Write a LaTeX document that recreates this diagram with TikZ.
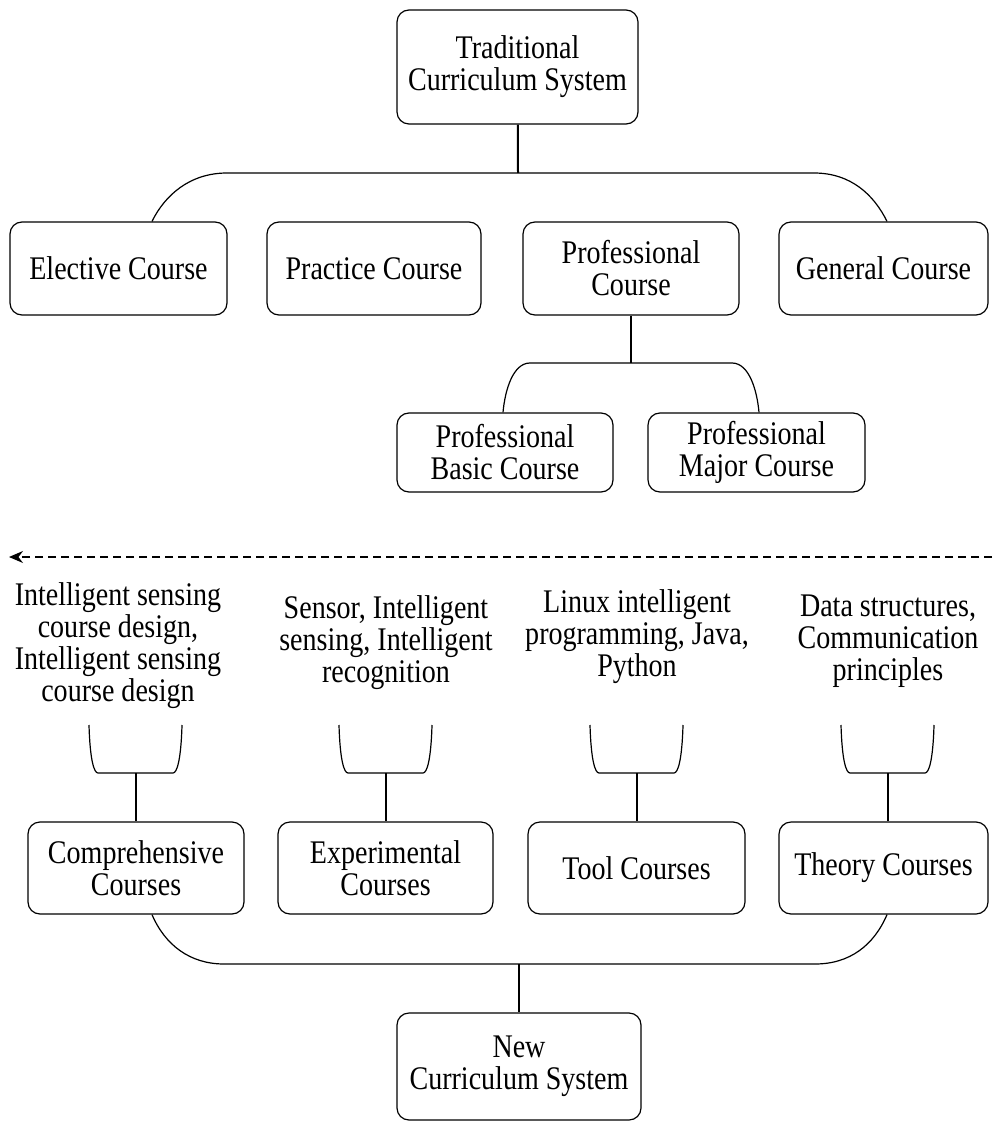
\documentclass[tikz,border=0pt]{standalone}
\usepackage{fontspec}
\setmainfont{Liberation Serif}[FakeStretch=0.85]
\usetikzlibrary{arrows.meta}
\begin{document}
\begin{tikzpicture}
        [x=0.5pt, y=-0.5pt,
         font=\fontsize{16.5}{16}\selectfont,
         box_style/.style={draw=black, line width=0.6pt, rounded corners=6pt, align=center, inner sep=0pt},
         text_style/.style={align=center, inner sep=0pt},
         edge_style/.style={draw=black, line width=0.6pt},
         stem_style/.style={draw=black, line width=1pt},
         bracket/.pic={\draw[edge_style] (-47,-48) .. controls (-46,-13) and (-42,0) .. (-38,0) -- (37,0) .. controls (41,0) and (45,-13) .. (46,-48);}]
            \useasboundingbox (0,0) rectangle (992,1122);
            % old system
            \node[box_style, minimum width=120.5pt, minimum height=57pt] (trad) at (517.5,67) {Traditional\\Curriculum System};
            \node[box_style, minimum width=108.5pt, minimum height=46.5pt] (elective) at (118.5,268.5) {Elective Course};
            \node[box_style, minimum width=107pt, minimum height=46.5pt] (practice) at (374,268.5) {Practice Course};
            \node[box_style, minimum width=108pt, minimum height=46.5pt] (professional) at (631,268.5) {Professional\\Course};
            \node[box_style, minimum width=104.5pt, minimum height=46.5pt] (general) at (883.5,268.5) {General Course};
            \node[box_style, minimum width=108pt, minimum height=39.5pt] (basic) at (505,452.5) {Professional\\Basic Course};
            \node[box_style, minimum width=108.5pt, minimum height=39.5pt] (major) at (756.5,452.5) {Professional\\Major Course};
            \coordinate (top_joint) at (518,173);
            \coordinate (prof_joint) at (631,363);
            \draw[stem_style] (trad) -- (top_joint);
            \draw[edge_style] ([xshift=16.75pt]elective.north) .. controls (165,195) and (190,173) .. (227,173) -- (814,173) .. controls (851,173) and (874,195) .. ([xshift=1.75pt]general.north);
            \draw[stem_style] (professional) -- (prof_joint);
            \draw[edge_style] ([xshift=-1pt]basic.north) .. controls (505,390) and (513,363) .. (530,363) -- (732,363) .. controls (749,363) and (757,390) .. ([xshift=1.25pt]major.north);
            % divider
            \coordinate (arrow_start) at (992,557);
            \coordinate (arrow_end) at (9,557);
            \draw[edge_style, line width=0.75pt, dash pattern=on 4pt off 2.5pt, -{Stealth[length=7pt,width=6pt]}] (arrow_start) -- (arrow_end);
            % new system
            \node[text_style] (lab1) at (118,646) {Intelligent sensing\\course design,\\Intelligent sensing\\course design};
            \node[text_style] (lab2) at (386,643) {Sensor, Intelligent\\sensing, Intelligent\\recognition};
            \node[text_style] (lab3) at (637,637) {Linux intelligent\\programming, Java,\\Python};
            \node[text_style] (lab4) at (888,641) {Data structures,\\Communication\\principles};
            \node[box_style, minimum width=108pt, minimum height=46pt] (comp) at (136,868) {Comprehensive\\Courses};
            \node[box_style, minimum width=107.5pt, minimum height=46pt] (exper) at (385.5,868) {Experimental\\Courses};
            \node[box_style, minimum width=108.5pt, minimum height=46pt] (tool) at (636.5,868) {Tool Courses};
            \node[box_style, minimum width=104.5pt, minimum height=46pt] (theory) at (883.5,868) {Theory Courses};
            \node[box_style, minimum width=122pt, minimum height=53.5pt] (newsys) at (519,1066.5) {New\\Curriculum System};
            \coordinate (bk1) at (136,773);
            \coordinate (bk2) at (386,773);
            \coordinate (bk3) at (637,773);
            \coordinate (bk4) at (888,773);
            \pic at (bk1) {bracket};
            \pic at (bk2) {bracket};
            \pic at (bk3) {bracket};
            \pic at (bk4) {bracket};
            \draw[stem_style] (bk1) -- (bk1 |- comp.north);
            \draw[stem_style] (bk2) -- (bk2 |- exper.north);
            \draw[stem_style] (bk3) -- (bk3 |- tool.north);
            \draw[stem_style] (bk4) -- (bk4 |- theory.north);
            \coordinate (new_joint) at (519,964);
            \draw[edge_style] ([xshift=8pt]comp.south) .. controls (165,945) and (190,964) .. (224,964) -- (815,964) .. controls (850,964) and (874,945) .. ([xshift=1.75pt]theory.south);
            \draw[stem_style] (new_joint) -- (newsys);
        \end{tikzpicture}
\end{document}
